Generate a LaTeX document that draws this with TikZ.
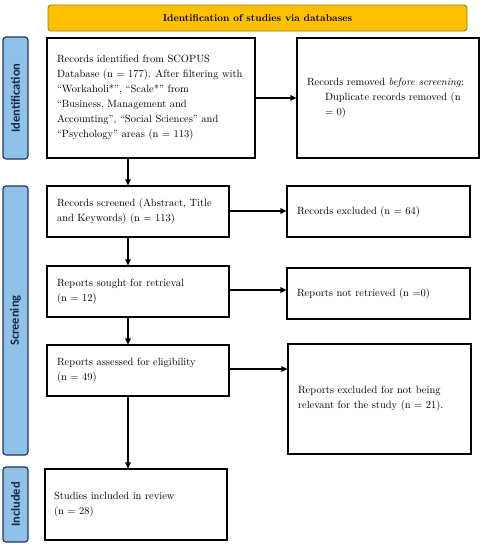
\documentclass[tikz,border=0pt]{standalone}
\usepackage{fontspec}
\newfontfamily\sidefont{Carlito}
\usetikzlibrary{arrows.meta}
\definecolor{sidefill}{RGB}{143,193,233}
\definecolor{sideline}{RGB}{31,56,90}
\definecolor{sidetext}{RGB}{25,40,70}
\definecolor{barfill}{RGB}{255,192,0}
\definecolor{barline}{RGB}{160,122,20}
\begin{document}
\begin{tikzpicture}[x=1pt,y=-1pt,
  box/.style={draw=black,line width=1.2pt,inner xsep=10pt,inner ysep=0pt,
    align=flush left,font=\fontsize{10.5}{15}\selectfont},
  side/.style={draw=sideline,fill=sidefill,line width=1.2pt,rounded corners=3pt,
    inner sep=0pt,minimum width=25pt,text=sidetext,
    font=\sidefont\bfseries\fontsize{12.5}{14}\selectfont},
  bar/.style={draw=barline,fill=barfill,line width=0.9pt,rounded corners=3pt,
    inner sep=0pt,font=\bfseries\fontsize{10}{12}\selectfont},
  arr/.style={draw=black,line width=1.2pt,-{Triangle[length=6pt,width=5.5pt]}}
]
\useasboundingbox (0,0) rectangle (482,550);

\node[bar,minimum width=419pt,minimum height=26pt] (bar) at (257.5,18) {Identification of studies via databases};

\node[side,minimum height=122pt] (sid) at (15.5,98) {\rotatebox{90}{Identification}};
\node[side,minimum height=269pt] (ssc) at (15.5,320.5) {\rotatebox{90}{Screening}};
\node[side,minimum height=75pt] (sin) at (15.5,504.5) {\rotatebox{90}{Included}};

\node[box,minimum width=208pt,minimum height=120pt,text width=188pt] (b1) at (151,98)
  {Records identified from SCOPUS\\Database (n = 177). After filtering with\\“Workaholi*”, “Scale*” from\\“Business, Management and\\Accounting”, “Social Sciences” and\\“Psychology” areas (n = 113)};
\node[box,minimum width=182pt,minimum height=120pt,text width=162pt] (r1) at (388,98)
  {Records removed \textit{before screening}:\\\hspace*{18pt}Duplicate records removed (n\\\hspace*{18pt}= 0)};

\node[box,minimum width=182pt,minimum height=51pt,text width=162pt] (b2) at (138,211.5)
  {Records screened (Abstract, Title\\and Keywords) (n = 113)};
\node[box,minimum width=183pt,minimum height=51pt,text width=163pt] (r2) at (378.5,211.5)
  {Records excluded (n = 64)};

\node[box,minimum width=182pt,minimum height=51pt,text width=162pt] (b3) at (138,291.5)
  {Reports sought for retrieval\\(n = 12)};
\node[box,minimum width=183pt,minimum height=51pt,text width=163pt] (r3) at (378.5,293.5)
  {Reports not retrieved (n =0)};

\node[box,minimum width=182pt,minimum height=51pt,text width=162pt] (b4) at (138,370.5)
  {Reports assessed for eligibility\\(n = 49)};
\node[box,minimum width=183pt,minimum height=110pt,text width=163pt] (r4) at (379.5,399)
  {Reports excluded for not being\\relevant for the study (n = 21).};

\node[box,minimum width=182pt,minimum height=71pt,inner xsep=9pt,text width=164pt] (b5) at (136,504.5)
  {Studies included in review\\(n = 28)};

\coordinate (vx) at (128,0);
\draw[arr] (b1.south -| vx) -- (b2.north -| vx);
\draw[arr] (b2.south -| vx) -- (b3.north -| vx);
\draw[arr] (b3.south -| vx) -- (b4.north -| vx);
\draw[arr] (b4.south -| vx) -- (b5.north -| vx);

\draw[arr] (b1.east) -- (b1.east -| r1.west);
\draw[arr] ([yshift=0.5pt]b2.east) -- ([yshift=0.5pt]b2.east -| r2.west);
\draw[arr] ([yshift=1.5pt]b3.east) -- ([yshift=1.5pt]b3.east -| r3.west);
\draw[arr] ([yshift=1.5pt]b4.east) -- ([yshift=1.5pt]b4.east -| r4.west);
\end{tikzpicture}
\end{document}
